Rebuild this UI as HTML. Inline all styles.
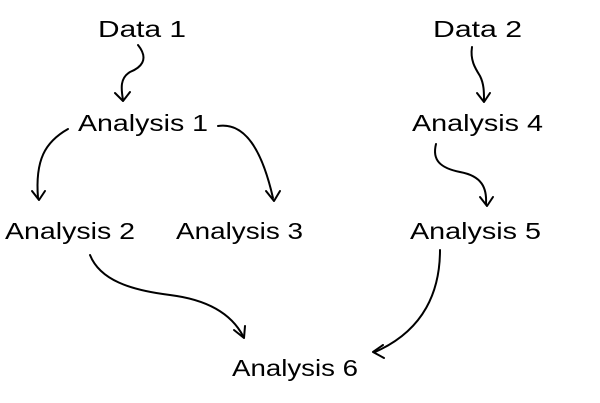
<!DOCTYPE html>
<html><head><meta charset="utf-8"><style>
html,body{margin:0;padding:0;background:#fff;}
svg{display:block;}
text{font-family:"Liberation Sans",sans-serif;font-size:23px;fill:#000;}
</style></head><body>
<svg width="600" height="403" viewBox="0 0 600 403">
<text x="98" y="37" textLength="88" lengthAdjust="spacingAndGlyphs">Data 1</text>
<text x="433" y="37" textLength="89" lengthAdjust="spacingAndGlyphs">Data 2</text>
<text x="78" y="131" textLength="130" lengthAdjust="spacingAndGlyphs">Analysis 1</text>
<text x="412" y="131" textLength="131" lengthAdjust="spacingAndGlyphs">Analysis 4</text>
<text x="5" y="239" textLength="130" lengthAdjust="spacingAndGlyphs">Analysis 2</text>
<text x="176" y="239" textLength="127" lengthAdjust="spacingAndGlyphs">Analysis 3</text>
<text x="410" y="239" textLength="131" lengthAdjust="spacingAndGlyphs">Analysis 5</text>
<text x="232" y="376" textLength="126" lengthAdjust="spacingAndGlyphs">Analysis 6</text>
<g fill="none" stroke="#000" stroke-width="2" stroke-linecap="round" stroke-linejoin="round">
<path d="M138 45 C150 60 140 68 130 72 C120 78 121 88 123 100"/>
<path d="M115 93 L123 101 L130 92"/>
<path d="M68 129 C45 142 35 160 38 198"/>
<path d="M32 191 L39 200 L45 191"/>
<path d="M218 126 C245 122 262 150 273 198"/>
<path d="M266 191 L274 201 L280 191"/>
<path d="M472 47 C470 60 475 68 480 76 C484 84 484 92 484 100"/>
<path d="M477 93 L484 102 L490 93"/>
<path d="M436 144 C432 160 440 168 460 172 C482 176 487 188 486 204"/>
<path d="M480 197 L487 206 L493 197"/>
<path d="M90 255 C100 280 130 290 170 295 C210 300 232 315 243 336"/>
<path d="M234 330 L244 338 L245 326"/>
<path d="M440 250 C440 290 425 330 375 352"/>
<path d="M383 345 L373 352 L384 358"/>
</g>
</svg>
</body></html>
